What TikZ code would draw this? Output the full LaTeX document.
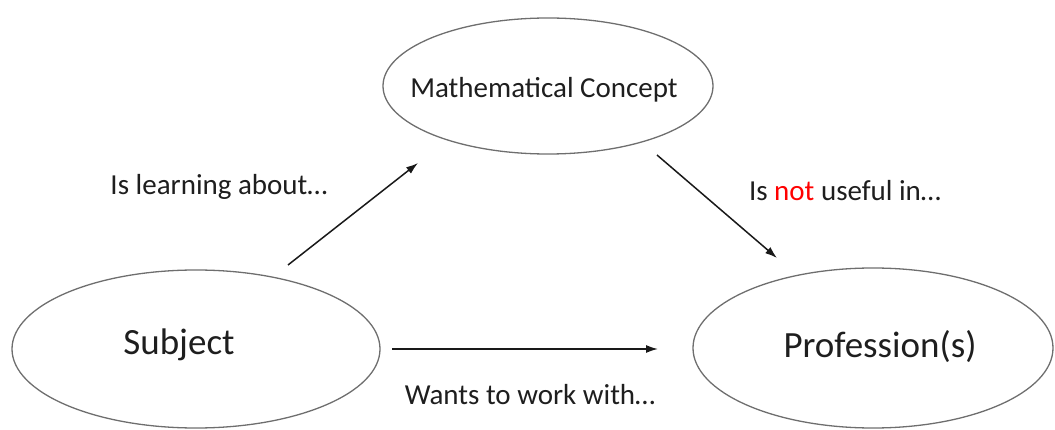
\documentclass[tikz,border=0pt]{standalone}
\usepackage{fontspec}
\setmainfont{Carlito}
\usetikzlibrary{arrows.meta,shapes.geometric}
\definecolor{txt}{RGB}{30,30,30}
\definecolor{edge}{RGB}{110,110,110}
\definecolor{notred}{RGB}{255,0,0}
\tikzset{
  oval/.style={draw=edge, line width=1.3pt, ellipse, inner sep=0pt, fill=none},
  bigtext/.style={anchor=base, text=txt, font=\fontsize{37}{44}\selectfont, inner sep=0pt},
  smalltext/.style={anchor=base, text=txt, font=\fontsize{29}{35}\selectfont, inner sep=0pt},
  conn/.style={draw=black!90, line width=1.5pt, -{Latex[length=12pt,width=8pt]}}
}
\begin{document}
\begin{tikzpicture}[x=1pt,y=-1pt]
\useasboundingbox (0,0) rectangle (1055,430);
% ellipses
\node[oval, minimum width=330pt, minimum height=136pt] (math) at (548,86) {};
\node[oval, minimum width=368pt, minimum height=158pt] (subj) at (196,349) {};
\node[oval, minimum width=360pt, minimum height=160pt] (prof) at (873,348) {};
% texts in ellipses
\node[smalltext] (mathtxt) at (544,98) {Mathematical Concept};
\node[bigtext] (subjtxt) at (179,355) {Subject};
\node[bigtext] (proftxt) at (880,358) {Profession(s)};
% connector labels
\node[smalltext] (l1) at (219,195) {Is learning about\ldots};
\node[smalltext] (l2) at (845,201) {Is \textcolor{notred}{not} useful in\ldots};
\node[smalltext] (l3) at (530,404) {Wants to work with\ldots};
% connector end points
\coordinate (a1s) at (288,265);
\coordinate (a1e) at (418,163);
\coordinate (a2s) at (657,155);
\coordinate (a2e) at (777,258);
\coordinate (a3s) at (392,349);
\coordinate (a3e) at (658,349);
\draw[conn] (a1s) -- (a1e);
\draw[conn] (a2s) -- (a2e);
\draw[conn] (a3s) -- (a3e);
\end{tikzpicture}
\end{document}
